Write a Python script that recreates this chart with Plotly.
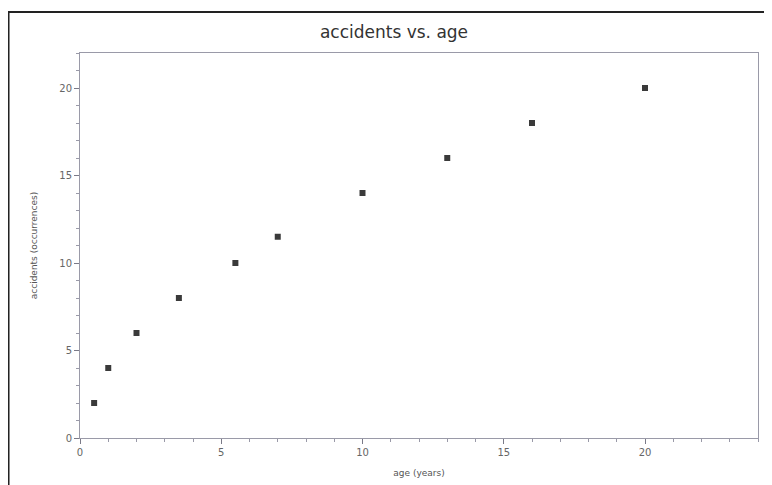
import plotly.graph_objects as go

age = [0.5, 1, 2, 3.5, 5.5, 7, 10, 13, 16, 20]
accidents = [2, 4, 6, 8, 10, 11.5, 14, 16, 18, 20]
x_ticks = [0, 5, 10, 15, 20]
y_ticks = [0, 5, 10, 15, 20]

W, H = 772, 485
# page body has an 8px offset; plot area target: x 79.5..757.7, y 53..438.5
L, R, T, B = 79.5 - 8, 757.7 - 8, 53 - 8, 438.5 - 8

fig = go.Figure()
fig.add_trace(go.Scatter(
    x=age, y=accidents, mode="markers",
    marker=dict(symbol="square", size=6, color="#3a3a3a"),
    showlegend=False,
))

axis_common = dict(
    showgrid=False, zeroline=False, showline=True, mirror=True,
    linecolor="#9a9aa8", linewidth=1,
    ticks="outside", ticklen=5, tickcolor="#7a7a88", tickwidth=1,
    tickfont=dict(family="DejaVu Sans", size=10, color="#666666"),
    minor=dict(ticks="outside", ticklen=3, tickcolor="#9a9aa8", dtick=1),
)
fig.update_xaxes(range=[0, 24], tickvals=x_ticks, **axis_common,
                 title=dict(text="age (years)", font=dict(family="DejaVu Sans", size=9, color="#555555"), standoff=12))
fig.update_yaxes(range=[0, 22], tickvals=y_ticks, **axis_common,
                 title=dict(text="accidents (occurrences)", font=dict(family="DejaVu Sans", size=9, color="#555555"), standoff=20))

fig.add_shape(type="rect", xref="paper", yref="paper",
              x0=(0 - L) / (R - L), x1=(W + 10 - L) / (R - L),
              y0=(B - (H + 10)) / (B - T), y1=(B - 4) / (B - T),
              line=dict(color="#222222", width=2), layer="below")

fig.update_layout(
    width=W, height=H,
    margin=dict(l=L, r=W - R, t=T, b=H - B),
    paper_bgcolor="white", plot_bgcolor="white",
    title=dict(text="accidents vs. age", x=386 / W, xanchor="center", y=1 - 24 / H, yanchor="middle",
               font=dict(family="DejaVu Sans", size=17, color="#333333")),
)
fig.write_html("out.html")
